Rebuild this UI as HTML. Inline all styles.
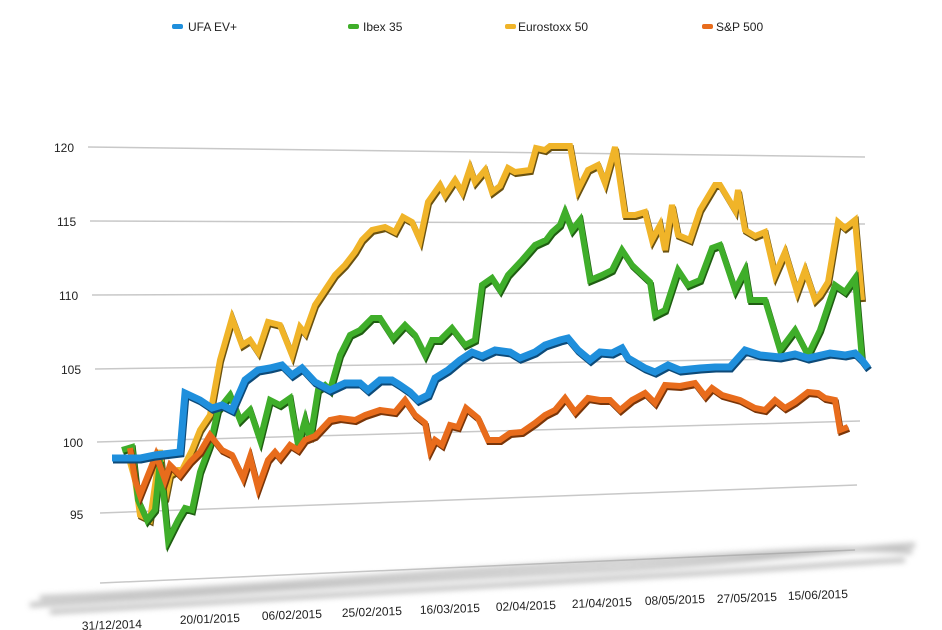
<!DOCTYPE html>
<html><head><meta charset="utf-8"><style>
body{margin:0;background:#fff;}
svg{display:block;font-family:"Liberation Sans",sans-serif;}
</style></head><body>
<svg width="942" height="630" viewBox="0 0 942 630">
<defs>
<filter id="b" x="-10%" y="-200%" width="120%" height="500%"><feGaussianBlur stdDeviation="3"/></filter>
</defs>
<g font-size="12" fill="#222">
<rect x="172" y="24" width="11" height="5" rx="2" fill="#1f8fdc"/><text x="188" y="31">UFA EV+</text>
<rect x="348" y="24" width="11" height="5" rx="2" fill="#3fae2a"/><text x="363" y="31">Ibex 35</text>
<rect x="505" y="24" width="11" height="5" rx="2" fill="#f0b429"/><text x="518" y="31">Eurostoxx 50</text>
<rect x="702" y="24" width="11" height="5" rx="2" fill="#e86c1c"/><text x="716" y="31">S&amp;P 500</text>
</g>
<g stroke="#c8c8c8" stroke-width="1.5">
<line x1="88" y1="147" x2="865" y2="157"/>
<line x1="90" y1="221" x2="865" y2="224"/>
<line x1="92" y1="295" x2="863" y2="292"/>
<line x1="95" y1="369" x2="862" y2="358"/>
<line x1="97" y1="442" x2="860" y2="421"/>
<line x1="100" y1="513" x2="857" y2="485"/>
<line x1="100" y1="583" x2="855" y2="550"/>
</g>
<g font-size="12" fill="#222">
<text x="54" y="152">120</text><text x="57" y="226">115</text><text x="59" y="300">110</text>
<text x="61" y="374">105</text><text x="63" y="447">100</text><text x="70" y="519">95</text>
</g>
<g fill="none" stroke="#999" stroke-width="5" opacity="0.6" filter="url(#b)">
<path d="M30 605 C200 595 400 580 600 570 C750 562 850 548 915 545"/>
<path d="M40 598 C250 588 450 570 650 560 C780 553 860 545 912 552"/>
<path d="M50 612 C250 600 450 588 650 576 C780 569 860 562 905 560"/>
</g>
<g font-size="12" fill="#222">
<text x="82" y="630" transform="rotate(-2 82 630)">31/12/2014</text>
<text x="180" y="624" transform="rotate(-2 180 624)">20/01/2015</text>
<text x="262" y="620" transform="rotate(-2 262 620)">06/02/2015</text>
<text x="342" y="617" transform="rotate(-2 342 617)">25/02/2015</text>
<text x="420" y="614" transform="rotate(-2 420 614)">16/03/2015</text>
<text x="496" y="611" transform="rotate(-2 496 611)">02/04/2015</text>
<text x="572" y="608" transform="rotate(-2 572 608)">21/04/2015</text>
<text x="645" y="605" transform="rotate(-2 645 605)">08/05/2015</text>
<text x="717" y="603" transform="rotate(-2 717 603)">27/05/2015</text>
<text x="788" y="600" transform="rotate(-2 788 600)">15/06/2015</text>
</g>
<g fill="none" stroke-linejoin="miter" stroke-linecap="butt">
<g id="yl">
<polyline stroke="#6b5210" stroke-width="6" transform="translate(1,2)" points="128,455 135,480 140,515 150,520 160,450 165,500 170,475 178,470 182,470 192,450 200,430 210,415 220,360 232,318 242,345 250,340 258,352 268,322 280,325 292,355 300,327 305,333 315,305 325,290 335,275 345,265 355,252 362,240 372,230 385,227 395,232 403,217 412,222 420,240 428,202 440,185 445,195 455,180 462,192 470,168 475,182 485,170 492,192 500,186 508,168 515,172 530,170 536,148 545,150 550,146 570,146 578,190 588,170 598,165 605,183 615,147 625,215 635,215 645,212 652,240 660,225 665,250 672,205 678,235 690,240 700,210 715,185 720,185 735,210 738,190 745,230 755,236 765,232 775,275 785,252 797,292 805,270 815,300 820,295 828,282 838,222 845,228 855,220 862,300"/>
<polyline stroke="#f0b429" stroke-width="6" points="128,455 135,480 140,515 150,520 160,450 165,500 170,475 178,470 182,470 192,450 200,430 210,415 220,360 232,318 242,345 250,340 258,352 268,322 280,325 292,355 300,327 305,333 315,305 325,290 335,275 345,265 355,252 362,240 372,230 385,227 395,232 403,217 412,222 420,240 428,202 440,185 445,195 455,180 462,192 470,168 475,182 485,170 492,192 500,186 508,168 515,172 530,170 536,148 545,150 550,146 570,146 578,190 588,170 598,165 605,183 615,147 625,215 635,215 645,212 652,240 660,225 665,250 672,205 678,235 690,240 700,210 715,185 720,185 735,210 738,190 745,230 755,236 765,232 775,275 785,252 797,292 805,270 815,300 820,295 828,282 838,222 845,228 855,220 862,300"/>
</g>
<polyline stroke="#1f5e12" stroke-width="6" transform="translate(1,2)" points="122,450 132,447 138,500 147,520 155,510 160,460 168,540 178,520 185,508 192,510 200,472 210,445 218,410 230,395 240,420 250,410 260,440 270,400 280,405 290,398 298,445 305,420 310,440 318,390 325,385 330,390 340,355 350,335 360,330 372,318 380,318 393,338 405,325 415,335 425,355 432,340 440,340 452,328 465,345 475,340 482,285 492,278 500,290 508,275 522,260 535,245 546,240 552,232 560,225 565,212 572,230 580,220 590,280 602,275 612,270 622,250 632,265 650,282 655,315 665,310 678,270 688,285 700,280 712,248 720,245 735,290 745,270 750,300 765,300 780,350 795,330 808,355 820,330 835,285 845,292 855,278 862,360"/>
<polyline stroke="#3fae2a" stroke-width="6" points="122,450 132,447 138,500 147,520 155,510 160,460 168,540 178,520 185,508 192,510 200,472 210,445 218,410 230,395 240,420 250,410 260,440 270,400 280,405 290,398 298,445 305,420 310,440 318,390 325,385 330,390 340,355 350,335 360,330 372,318 380,318 393,338 405,325 415,335 425,355 432,340 440,340 452,328 465,345 475,340 482,285 492,278 500,290 508,275 522,260 535,245 546,240 552,232 560,225 565,212 572,230 580,220 590,280 602,275 612,270 622,250 632,265 650,282 655,315 665,310 678,270 688,285 700,280 712,248 720,245 735,290 745,270 750,300 765,300 780,350 795,330 808,355 820,330 835,285 845,292 855,278 862,360"/>
<polyline stroke="#7a3508" stroke-width="6" transform="translate(1,2)" points="130,448 135,480 140,495 150,470 156,455 165,480 170,465 180,475 190,462 200,452 210,435 222,450 232,455 243,478 250,457 258,488 268,460 275,452 280,458 290,445 298,450 305,440 315,436 330,420 340,418 355,420 365,415 380,410 395,412 405,400 415,415 425,423 430,450 435,440 442,445 450,425 458,427 466,408 478,418 488,440 500,440 510,433 522,432 535,423 545,415 555,410 565,398 575,412 588,398 600,400 610,400 620,410 632,400 645,393 655,403 665,385 680,386 695,383 705,396 712,388 722,395 740,400 755,408 765,410 775,400 785,408 795,402 808,392 818,393 825,398 835,400 840,430 848,427"/>
<polyline stroke="#e86c1c" stroke-width="6" points="130,448 135,480 140,495 150,470 156,455 165,480 170,465 180,475 190,462 200,452 210,435 222,450 232,455 243,478 250,457 258,488 268,460 275,452 280,458 290,445 298,450 305,440 315,436 330,420 340,418 355,420 365,415 380,410 395,412 405,400 415,415 425,423 430,450 435,440 442,445 450,425 458,427 466,408 478,418 488,440 500,440 510,433 522,432 535,423 545,415 555,410 565,398 575,412 588,398 600,400 610,400 620,410 632,400 645,393 655,403 665,385 680,386 695,383 705,396 712,388 722,395 740,400 755,408 765,410 775,400 785,408 795,402 808,392 818,393 825,398 835,400 840,430 848,427"/>
<polyline stroke="#0d4a78" stroke-width="7" transform="translate(1,2)" points="112,458 140,458 155,455 180,452 185,393 200,400 212,408 222,405 232,410 245,380 258,370 270,368 282,365 292,375 302,368 315,382 330,390 345,383 360,383 368,390 380,380 392,380 400,385 410,392 418,400 428,395 435,378 448,370 460,360 472,352 482,356 495,350 510,352 520,358 535,352 545,345 560,340 568,338 578,350 590,360 600,352 612,353 622,348 628,358 645,368 655,372 668,365 680,370 700,368 715,367 730,367 745,350 760,355 780,357 795,354 808,358 830,353 845,355 855,353 862,360 868,368"/>
<polyline stroke="#1f8fdc" stroke-width="7" points="112,458 140,458 155,455 180,452 185,393 200,400 212,408 222,405 232,410 245,380 258,370 270,368 282,365 292,375 302,368 315,382 330,390 345,383 360,383 368,390 380,380 392,380 400,385 410,392 418,400 428,395 435,378 448,370 460,360 472,352 482,356 495,350 510,352 520,358 535,352 545,345 560,340 568,338 578,350 590,360 600,352 612,353 622,348 628,358 645,368 655,372 668,365 680,370 700,368 715,367 730,367 745,350 760,355 780,357 795,354 808,358 830,353 845,355 855,353 862,360 868,368"/>
</g>
</svg>
</body></html>
